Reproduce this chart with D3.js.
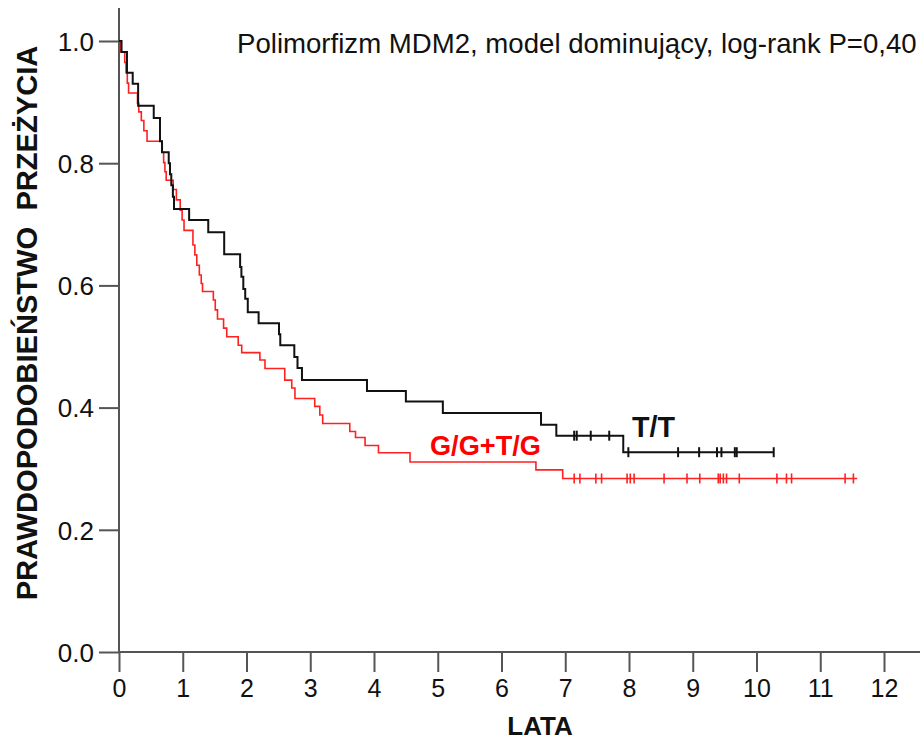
<!DOCTYPE html>
<html><head><meta charset="utf-8">
<script src="https://cdn.jsdelivr.net/npm/d3@7/dist/d3.min.js"></script>
<style>body{margin:0;background:#fff}svg{display:block}text{font-family:"Liberation Sans",Arial,sans-serif}</style>
</head><body>
<svg id="c" width="920" height="740"></svg>
<script>
const title = "Polimorfizm MDM2, model dominujący, log-rank P=0,40";
const xLabel = "LATA";
const yLabel = "PRAWDOPODOBIEŃSTWO\u00a0\u00a0PRZEŻYCIA";
const xTicks = [0,1,2,3,4,5,6,7,8,9,10,11,12];
const yTicks = [0,0.2,0.4,0.6,0.8,1.0];

// T/T group: event times and survival after each event
const ttTimes = [0.04,0.125,0.215,0.30,0.545,0.643,0.675,0.78,0.80,0.82,0.845,0.863,1.10,1.40,1.65,1.90,1.92,1.95,1.98,2.02,2.19,2.51,2.53,2.75,2.80,2.87,3.89,4.50,5.08,6.62,6.86,7.91];
const ttSurv  = [0.982,0.948,0.930,0.894,0.874,0.836,0.818,0.800,0.782,0.764,0.745,0.725,0.707,0.687,0.651,0.630,0.614,0.594,0.578,0.556,0.538,0.520,0.502,0.483,0.465,0.445,0.427,0.410,0.391,0.372,0.354,0.327];
const ttCensor = [7.14,7.18,7.40,7.69,7.99,8.77,9.10,9.38,9.45,9.66,9.69,10.27];
const ttEnd = 10.27;

// G/G+T/G group
const ggTimes = [0.02,0.09,0.11,0.13,0.15,0.29,0.31,0.35,0.39,0.44,0.675,0.70,0.72,0.74,0.85,0.90,0.96,0.99,1.02,1.16,1.19,1.22,1.26,1.29,1.31,1.48,1.51,1.545,1.64,1.69,1.87,1.925,2.21,2.29,2.60,2.71,2.76,3.07,3.15,3.195,3.62,3.71,3.86,4.07,4.565,6.54,6.96];
const ggSurv  = [0.982,0.965,0.948,0.931,0.915,0.898,0.884,0.870,0.853,0.836,0.818,0.801,0.786,0.772,0.757,0.740,0.723,0.707,0.690,0.666,0.650,0.633,0.617,0.603,0.590,0.576,0.560,0.545,0.530,0.516,0.502,0.490,0.478,0.464,0.445,0.432,0.415,0.402,0.388,0.374,0.361,0.351,0.338,0.326,0.311,0.298,0.284];
const ggCensor = [7.14,7.23,7.48,7.57,7.97,8.02,8.08,8.55,8.91,9.11,9.40,9.43,9.48,9.53,9.73,10.32,10.47,10.55,11.39,11.52];
const ggEnd = 11.58;

const svg = d3.select("#c");
const x = d3.scaleLinear().domain([0,12]).range([119,884]);
const y = d3.scaleLinear().domain([0,1]).range([652,41]);

const axisColor = "#555";
// y axis
const ya = svg.append("g").attr("transform","translate(119,0)")
  .call(d3.axisLeft(y).tickValues(yTicks).tickFormat(d3.format(".1f")).tickSize(20).tickPadding(5));
ya.select(".domain").remove();
ya.selectAll(".tick line").attr("stroke",axisColor).attr("stroke-width",2);
ya.selectAll(".tick text").attr("font-size",26).attr("fill","#111").attr("dy","0.36em");
svg.append("line").attr("x1",119).attr("x2",119).attr("y1",8).attr("y2",652)
  .attr("stroke",axisColor).attr("stroke-width",2);
// x axis
const xa = svg.append("g").attr("transform","translate(0,652)")
  .call(d3.axisBottom(x).tickValues(xTicks).tickFormat(d3.format("d")).tickSize(20).tickPadding(7));
xa.select(".domain").remove();
xa.selectAll(".tick line").attr("stroke",axisColor).attr("stroke-width",2);
xa.selectAll(".tick text").attr("font-size",25).attr("fill","#111");
svg.append("line").attr("x1",119).attr("x2",920).attr("y1",652).attr("y2",652)
  .attr("stroke",axisColor).attr("stroke-width",2);

function curvePoints(times, surv, end){
  const pts = [[0,1]];
  times.forEach((t,i)=>pts.push([t,surv[i]]));
  pts.push([end, surv[surv.length-1]]);
  return pts;
}
function survAt(times, surv, t){
  let s = 1;
  for (let i=0;i<times.length;i++){ if (times[i] <= t) s = surv[i]; }
  return s;
}
const line = d3.line().x(d=>x(d[0])).y(d=>y(d[1])).curve(d3.curveStepAfter);

function drawGroup(times, surv, cens, end, color, width){
  const g = svg.append("g");
  g.append("path").datum(curvePoints(times,surv,end)).attr("d",line)
    .attr("fill","none").attr("stroke",color).attr("stroke-width",width);
  g.selectAll("line.c").data(cens).enter().append("line")
    .attr("x1",d=>x(d)).attr("x2",d=>x(d))
    .attr("y1",d=>y(survAt(times,surv,d))-5).attr("y2",d=>y(survAt(times,surv,d))+5)
    .attr("stroke",color).attr("stroke-width",width);
}
drawGroup(ggTimes, ggSurv, ggCensor, ggEnd, "#ff2020", 1.6);
drawGroup(ttTimes, ttSurv, ttCensor, ttEnd, "#111", 2);

function fitText(sel, w){
  const len = sel.node().getComputedTextLength();
  const fs = parseFloat(sel.attr("font-size"));
  sel.attr("font-size", fs*w/len);
}
const t1 = svg.append("text").attr("x",237).attr("y",53).attr("font-size",22).attr("fill","#111").text(title);
fitText(t1, 680);
svg.append("text").attr("x",540).attr("y",735).attr("text-anchor","middle").attr("font-size",26)
  .attr("font-weight","bold").attr("fill","#111").text(xLabel);
const yl = svg.append("text").attr("transform","translate(37,323) rotate(-90)").attr("text-anchor","middle")
  .attr("font-size",26).attr("font-weight","bold").attr("fill","#111").text(yLabel);
fitText(yl, 555);
const l1 = svg.append("text").attr("x",632).attr("y",437).attr("font-size",24).attr("font-weight","bold").attr("fill","#111").text("T/T");
fitText(l1, 43);
const l2 = svg.append("text").attr("x",430).attr("y",455).attr("font-size",24).attr("font-weight","bold").attr("fill","#ff0000").text("G/G+T/G");
fitText(l2, 111);
</script>
</body></html>
